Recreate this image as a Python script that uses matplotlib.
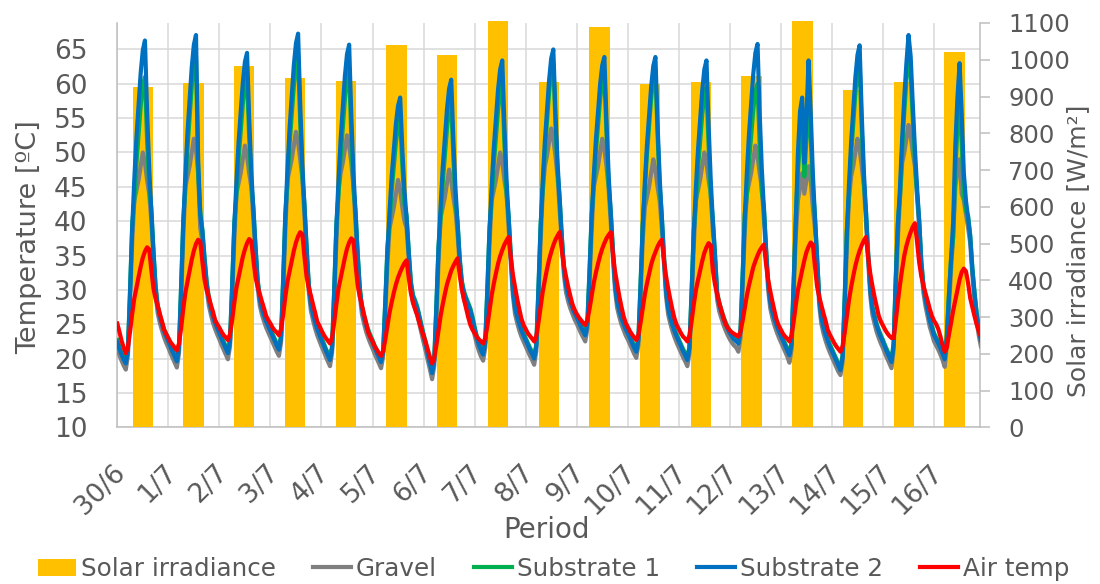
import matplotlib
matplotlib.use("Agg")
import matplotlib.pyplot as plt
from matplotlib.transforms import ScaledTranslation
import numpy as np

# ---------------- data ----------------
dates = ['30/6', '1/7', '2/7', '3/7', '4/7', '5/7', '6/7', '7/7', '8/7', '9/7',
         '10/7', '11/7', '12/7', '13/7', '14/7', '15/7', '16/7']

# daily solar irradiance [W/m2]
solar_irradiance = [925, 936, 984, 951, 942, 1041, 1012, 1106, 939, 1090,
                    935, 939, 955, 1106, 919, 939, 1021]

# hourly temperatures [degC], one list per day (00:00 ... 23:00)
gravel_days = [
    [21.5,20.5,19.7,19.0,18.4,20.5,28.1,37.0,43.0,44.5,46.0,48.0,50.0,48.5,46.0,44.0,40.0,34.6,29.4,26.6,25.2,24.1,23.1,22.3],
    [21.6,20.8,20.1,19.4,18.7,20.8,28.6,37.6,45.0,46.5,48.0,50.0,52.0,50.5,47.0,39.0,37.0,33.6,30.1,27.8,26.4,25.2,24.3,23.5],
    [22.8,22.0,21.3,20.6,19.9,21.8,28.9,37.2,44.0,45.5,47.0,49.0,51.0,49.5,47.0,45.0,40.1,35.1,30.3,27.7,26.4,25.4,24.5,23.8],
    [23.1,22.4,21.7,21.0,20.4,22.4,29.9,38.6,46.0,47.5,49.0,51.0,53.0,51.5,49.0,46.3,40.6,35.1,29.8,27.0,25.6,24.4,23.4,22.6],
    [21.8,21.1,20.3,19.6,18.9,20.9,28.4,37.1,44.5,47.0,48.5,50.5,52.5,51.0,48.5,45.2,39.7,34.3,29.2,26.5,25.1,23.9,23.0,22.2],
    [21.5,20.7,20.0,19.3,18.6,20.3,26.5,33.7,39.0,40.5,42.0,44.0,46.0,44.5,42.0,40.0,39.0,34.6,30.1,28.1,27.3,26.4,25.1,23.7],
    [22.4,21.1,19.7,18.4,17.0,18.9,25.8,33.8,40.5,42.0,43.5,45.5,47.5,46.0,43.5,41.5,38.0,33.4,30.1,28.6,27.7,26.9,26.1,24.9],
    [23.4,22.1,21.1,20.3,19.7,21.6,28.5,36.6,43.0,44.5,46.0,48.0,50.0,48.5,46.0,44.0,38.9,33.9,29.1,26.5,25.2,24.1,23.2,22.5],
    [21.8,21.1,20.4,19.8,19.1,21.1,28.4,36.9,44.2,48.0,49.5,51.5,53.5,52.0,49.5,46.4,41.5,36.6,32.1,29.6,28.3,27.3,26.5,25.7],
    [25.1,24.4,23.7,23.1,22.5,24.3,30.8,38.4,45.0,46.5,48.0,50.0,52.0,50.5,48.0,44.7,39.7,34.7,30.0,27.4,26.1,25.0,24.2,23.4],
    [22.8,22.1,21.4,20.7,20.1,22.0,28.9,37.0,42.0,43.5,45.0,47.0,49.0,47.5,45.0,43.0,39.0,33.9,29.0,26.4,25.1,24.0,23.1,22.3],
    [21.6,20.9,20.2,19.6,18.9,20.8,27.9,36.1,43.0,44.5,46.0,48.0,50.0,48.5,46.0,44.0,38.5,34.1,28.6,26.9,25.9,24.9,24.1,23.4],
    [22.8,22.3,21.9,21.6,21.0,23.0,30.3,38.5,44.0,45.5,47.0,49.0,51.0,49.5,47.0,45.0,40.3,35.0,30.0,27.3,25.9,24.8,23.9,23.1],
    [22.4,21.7,21.0,20.3,19.4,21.3,29.5,38.0,43.0,45.0,47.0,44.0,46.0,48.0,46.0,42.0,39.0,33.6,27.8,25.1,23.7,22.6,21.7,20.9],
    [20.2,19.5,18.8,18.1,17.6,19.5,27.2,36.2,43.3,46.5,48.0,50.0,52.0,50.5,48.0,45.2,39.7,34.3,29.2,26.4,25.1,23.9,23.0,22.2],
    [21.5,20.7,20.0,19.3,18.6,21.3,30.0,37.5,43.5,48.5,50.0,52.0,54.0,52.5,50.0,48.0,43.5,39.1,33.1,29.6,27.6,26.1,24.6,23.6],
    [22.5,21.9,21.3,20.6,19.8,18.8,21.8,27.5,33.0,38.0,45.0,47.5,49.0,44.0,43.0,41.0,39.0,36.8,32.1,28.6,25.6,23.4,21.8],
]

substrate1_days = [
    [22.7,21.7,20.9,20.2,19.6,21.5,30.1,39.5,43.1,48.5,52.6,56.8,59.7,61.0,51.9,45.0,41.8,35.8,30.6,27.8,26.4,25.3,24.3,23.5],
    [22.8,22.0,21.3,20.6,19.9,21.8,30.6,40.1,44.9,50.7,55.1,59.6,62.7,64.0,47.1,41.3,38.8,34.8,31.3,29.0,27.6,26.4,25.5,24.7],
    [24.0,23.2,22.5,21.8,21.1,22.8,30.9,39.7,43.7,49.0,53.0,57.0,59.8,61.0,52.3,45.5,41.9,36.3,31.5,28.9,27.6,26.6,25.7,25.0],
    [24.3,23.6,22.9,22.2,21.6,23.4,31.9,41.1,45.6,51.2,55.5,59.7,62.7,64.0,54.3,46.5,42.4,36.3,31.0,28.2,26.8,25.6,24.6,23.8],
    [23.0,22.3,21.5,20.8,20.1,21.9,30.4,39.6,43.9,49.3,53.5,57.8,60.7,62.0,52.6,45.0,41.5,35.5,30.4,27.7,26.3,25.1,24.2,23.4],
    [22.7,21.9,21.2,20.5,19.8,21.3,28.5,36.2,39.7,44.4,47.9,51.5,53.9,55.0,48.1,42.5,40.8,35.8,31.3,29.3,28.5,27.6,26.3,24.9],
    [23.6,22.3,20.9,19.6,18.2,19.9,27.8,36.3,40.4,45.6,49.6,53.5,56.3,57.5,49.3,42.8,39.8,34.6,31.3,29.8,28.9,28.1,27.3,26.1],
    [24.6,23.3,22.3,21.5,20.9,22.6,30.5,39.1,43.1,48.2,52.1,56.1,58.8,60.0,51.3,44.0,40.7,35.1,30.3,27.7,26.4,25.3,24.4,23.7],
    [23.0,22.3,21.6,21.0,20.3,22.1,30.4,39.4,44.6,50.1,54.4,58.7,61.8,63.0,54.2,47.2,43.3,37.8,33.3,30.8,29.5,28.5,27.7,26.9],
    [26.3,25.6,24.9,24.3,23.7,25.3,32.8,40.9,45.1,50.1,53.9,57.7,60.4,61.5,52.7,45.3,41.5,35.9,31.2,28.6,27.3,26.2,25.4,24.6],
    [24.0,23.3,22.6,21.9,21.3,23.0,30.9,39.5,44.4,49.7,53.8,57.9,60.8,62.0,52.7,45.2,40.8,35.1,30.2,27.6,26.3,25.2,24.3,23.5],
    [22.8,22.1,21.4,20.8,20.1,21.8,29.9,38.6,42.5,47.6,51.6,55.5,58.3,59.5,51.0,43.7,40.3,35.3,29.8,28.1,27.1,26.1,25.3,24.6],
    [24.0,23.5,23.1,22.8,22.5,24.2,32.3,41.0,43.8,48.6,52.5,56.2,58.9,60.0,51.3,44.3,42.1,36.2,31.2,28.5,27.1,26.0,25.1,24.3],
    [23.6,22.9,22.2,21.5,20.8,22.3,31.5,40.5,47.0,52.0,55.0,46.5,52.0,58.0,52.5,45.0,40.8,34.8,29.0,26.3,24.9,23.8,22.9,22.1],
    [21.4,20.7,20.0,19.3,18.6,20.5,29.2,38.7,43.8,49.6,54.0,58.6,61.7,63.0,53.5,45.6,41.5,35.5,30.4,27.6,26.3,25.1,24.2,23.4],
    [22.7,21.9,21.2,20.5,19.8,22.3,32.0,40.0,43.6,50.2,55.9,60.6,64.5,61.6,54.9,48.8,44.0,40.3,34.3,30.8,28.8,27.3,25.8,24.8],
    [23.7,23.1,22.5,21.8,21.0,20.2,23.5,29.5,34.5,37.7,47.4,53.6,58.0,51.4,43.9,41.5,40.8,38.0,33.3,29.8,26.8,24.6,23.0],
]

substrate2_days = [
    [22.4,21.4,20.6,19.9,19.3,21.2,29.6,39.0,46.1,52.2,56.9,61.6,64.9,66.3,56.0,47.6,41.5,35.5,30.3,27.5,26.1,25.0,24.0,23.2],
    [22.5,21.7,21.0,20.3,19.6,21.5,30.1,39.6,46.7,52.9,57.6,62.4,65.7,67.1,49.0,41.0,38.5,34.5,31.0,28.7,27.3,26.1,25.2,24.4],
    [23.7,22.9,22.2,21.5,20.8,22.5,30.4,39.2,45.7,51.4,55.8,60.1,63.2,64.5,55.0,47.2,41.6,36.0,31.2,28.6,27.3,26.3,25.4,24.7],
    [24.0,23.3,22.6,21.9,21.3,23.1,31.4,40.6,47.5,53.5,58.1,62.7,65.9,67.3,56.9,48.3,42.1,36.0,30.7,27.9,26.5,25.3,24.3,23.5],
    [22.7,22.0,21.2,20.5,19.8,21.6,29.9,39.1,46.0,51.9,56.5,61.1,64.3,65.7,55.5,47.2,41.2,35.2,30.1,27.4,26.0,24.8,23.9,23.1],
    [22.4,21.6,20.9,20.2,19.5,21.0,28.0,35.7,41.4,46.5,50.3,54.2,56.8,58.0,50.5,44.5,40.5,35.5,31.0,29.0,28.2,27.3,26.0,24.6],
    [23.3,22.0,20.6,19.3,17.9,19.6,27.3,35.8,42.2,47.8,52.1,56.3,59.3,60.6,51.8,44.7,39.5,34.3,31.0,29.5,28.6,27.8,27.0,25.8],
    [24.3,23.0,22.0,21.2,20.6,22.3,30.0,38.6,45.0,50.6,54.8,59.1,62.1,63.4,53.9,46.0,40.4,34.8,30.0,27.4,26.1,25.0,24.1,23.4],
    [22.7,22.0,21.3,20.7,20.0,21.8,29.9,38.9,45.7,51.5,56.0,60.5,63.7,65.0,55.8,48.4,43.0,37.5,33.0,30.5,29.2,28.2,27.4,26.6],
    [26.0,25.3,24.6,24.0,23.4,25.0,32.3,40.4,46.5,51.8,55.8,59.9,62.7,63.9,54.5,46.7,41.2,35.6,30.9,28.3,27.0,25.9,25.1,24.3],
    [23.7,23.0,22.3,21.6,21.0,22.7,30.4,39.0,45.5,51.0,55.3,59.6,62.6,63.9,54.2,46.3,40.5,34.8,29.9,27.3,26.0,24.9,24.0,23.2],
    [22.5,21.8,21.1,20.5,19.8,21.5,29.4,38.1,44.7,50.3,54.7,59.0,62.1,63.4,54.0,46.0,40.0,35.0,29.5,27.8,26.8,25.8,25.0,24.3],
    [23.7,23.2,22.8,22.5,22.2,23.9,31.8,40.5,47.1,52.7,57.1,61.4,64.5,65.8,55.8,47.7,41.8,35.9,30.9,28.2,26.8,25.7,24.8,24.0],
    [23.3,22.6,21.9,21.2,20.5,22.0,31.0,40.0,50.0,56.0,58.0,48.5,55.0,63.4,56.0,47.0,40.5,34.5,28.7,26.0,24.6,23.5,22.6,21.8],
    [21.1,20.4,19.7,19.0,18.3,20.2,28.7,38.2,45.3,51.4,56.1,60.9,64.2,65.6,55.5,47.2,41.2,35.2,30.1,27.3,26.0,24.8,23.9,23.1],
    [22.4,21.6,20.9,20.2,19.5,22.0,31.5,39.5,45.0,52.0,58.0,63.0,67.1,64.0,57.0,50.5,45.0,40.0,34.0,30.5,28.5,27.0,25.5,24.5],
    [23.4,22.8,22.2,21.5,20.7,19.9,23.0,29.0,34.5,40.0,51.0,58.0,63.0,55.5,47.0,43.0,40.5,37.7,33.0,29.5,26.5,24.3,22.7],
]

air_days = [
    [25.1,23.9,22.6,21.6,20.8,21.7,23.9,26.5,28.8,30.3,31.9,33.4,34.7,35.6,36.2,35.9,32.9,30.2,28.7,27.7,26.5,25.4,24.2,23.6],
    [23.0,22.4,22.0,21.6,21.2,22.2,24.4,27.2,29.6,31.2,32.8,34.4,35.7,36.7,37.3,37.0,34.1,31.5,30.0,29.0,27.8,26.8,25.6,25.0],
    [24.5,23.9,23.4,23.1,22.7,23.6,25.6,28.1,30.3,31.8,33.3,34.8,35.9,36.8,37.4,37.1,34.3,31.8,30.4,29.4,28.3,27.3,26.2,25.6],
    [25.1,24.5,24.1,23.8,23.4,24.3,26.4,29.0,31.2,32.7,34.2,35.7,36.9,37.8,38.4,38.1,34.8,31.9,30.3,29.2,27.9,26.7,25.4,24.8],
    [24.1,23.5,23.0,22.6,22.2,23.1,25.3,27.9,30.2,31.7,33.2,34.7,36.0,36.9,37.5,37.2,33.7,30.7,29.0,27.8,26.4,25.2,23.8,23.1],
    [22.5,21.8,21.3,20.8,20.4,21.1,22.8,24.7,26.7,28.2,29.6,30.8,31.8,32.6,33.3,33.9,34.3,31.8,29.6,28.2,27.2,26.3,25.2,24.2],
    [23.3,22.4,21.3,20.2,19.3,20.1,21.9,24.0,26.2,27.9,29.4,30.8,31.8,32.8,33.5,34.1,34.6,32.1,30.1,28.6,27.3,26.0,24.9,24.2],
    [23.7,23.2,22.8,22.5,22.2,23.0,24.8,27.0,29.2,30.9,32.4,33.8,34.9,35.8,36.6,37.2,37.7,34.7,32.2,30.4,28.7,27.2,25.8,24.9],
    [24.3,23.7,23.3,22.9,22.5,23.3,25.2,27.4,29.7,31.4,33.0,34.4,35.5,36.5,37.3,37.9,38.4,35.7,33.5,31.9,30.4,29.1,27.9,27.1],
    [26.5,26.0,25.6,25.2,24.9,25.6,27.2,29.1,31.0,32.5,33.8,35.0,36.0,36.8,37.5,38.0,38.4,35.3,32.7,30.9,29.1,27.6,26.2,25.2],
    [24.6,24.0,23.5,23.1,22.7,23.4,25.2,27.2,29.3,30.9,32.3,33.7,34.7,35.5,36.3,36.9,37.3,34.3,32.0,30.2,28.6,27.1,25.8,24.9],
    [24.3,23.7,23.2,22.9,22.5,23.4,25.4,27.8,29.9,31.4,32.8,34.2,35.4,36.2,36.8,36.5,32.8,30.8,29.3,28.2,27.0,26.0,25.0,24.5],
    [24.1,23.8,23.6,23.4,23.2,23.9,25.5,27.4,29.2,30.7,32.0,33.3,34.2,35.0,35.7,36.2,36.6,33.8,31.5,29.8,28.3,26.9,25.6,24.8],
    [24.2,23.6,23.2,22.9,22.5,23.4,25.4,27.8,30.0,31.4,32.9,34.3,35.5,36.3,36.9,36.6,33.4,30.5,29.0,27.8,26.6,25.5,24.2,23.5],
    [22.9,22.3,21.8,21.4,21.0,21.8,23.8,26.2,28.5,30.4,32.0,33.5,34.7,35.7,36.5,37.2,37.7,34.8,32.4,30.6,29.0,27.6,26.2,25.4],
    [24.8,24.2,23.7,23.3,23.0,23.0,25.5,28.3,30.8,33.0,35.0,36.4,37.5,38.4,39.2,39.7,37.0,34.0,32.0,30.6,29.5,28.4,27.2,26.2],
    [25.5,25.0,24.3,23.2,22.0,21.0,21.6,23.5,25.2,27.0,28.5,30.0,31.5,32.6,33.1,32.7,31.0,28.8,27.5,26.2,25.0,24.0,23.2],
]

series_names = ['Gravel', 'Substrate 1', 'Substrate 2', 'Air temp']
series_colors = ['#7F7F7F', '#00B050', '#0070C0', '#FF0000']


def flatten(days):
    return [v for day in days for v in day]


series = [flatten(gravel_days), flatten(substrate1_days),
          flatten(substrate2_days), flatten(air_days)]

# ---------------- figure ----------------
W, H = 1100, 584
fig = plt.figure(figsize=(W / 100, H / 100), dpi=100)
L, R, T, B = 117.3, 980.0, 23.0, 427.3
rect = [L / W, 1 - B / H, (R - L) / W, (B - T) / H]

TXT = '#595959'
AXC = '#BFBFBF'
GRID = '#D9D9D9'

# base axes: temperature scale, grid, date labels
ax = fig.add_axes(rect)
ax.set_xlim(0, 16.9)
ax.set_ylim(10, 68.85)
ax.set_yticks(np.arange(10, 66, 5))
ax.set_xticks(range(len(dates)))
ax.set_xticklabels(dates, rotation=45, ha='right', va='top', rotation_mode='anchor')
ax.grid(True, color=GRID, lw=1.1)
ax.set_axisbelow(True)
ax.tick_params(axis='both', length=0, colors=TXT)
ax.tick_params(axis='y', labelsize=19, pad=21.5)
ax.tick_params(axis='x', labelsize=19, pad=23)
shift = ScaledTranslation(-5 / 100, 0, fig.dpi_scale_trans)
for lab in ax.get_xticklabels():
    lab.set_transform(lab.get_transform() + shift)
for s in ['top', 'right']:
    ax.spines[s].set_visible(False)
for s in ['left', 'bottom']:
    ax.spines[s].set_color(AXC)
    ax.spines[s].set_linewidth(1.1)
ax.set_ylabel('Temperature [ºC]', fontsize=19.5, color=TXT)
ax.yaxis.set_label_coords((42 - L) / (R - L), (B - 237.5) / (B - T))
ax.set_xlabel('Period', fontsize=20, color=TXT)
ax.xaxis.set_label_coords((547 - L) / (R - L), -(516 - B) / (B - T))

# bars on secondary (right) axis, categorical x
ax2 = fig.add_axes(rect)
ax2.patch.set_visible(False)
bars = ax2.bar(range(len(solar_irradiance)), solar_irradiance, width=0.4,
               color='#FFC000', clip_on=False, label='Solar irradiance')
ax2.set_xlim(-0.5, len(solar_irradiance) - 0.5)
ax2.set_ylim(0, 1100)
ax2.set_xticks([])
ax2.yaxis.tick_right()
ax2.yaxis.set_label_position('right')
ax2.set_yticks(range(0, 1101, 100))
ax2.tick_params(axis='y', direction='out', length=7.2, width=1.1, color=AXC,
                labelcolor=TXT, labelsize=17.5, pad=13)
for s in ['top', 'left', 'bottom']:
    ax2.spines[s].set_visible(False)
ax2.spines['right'].set_color(AXC)
ax2.spines['right'].set_linewidth(1.1)
ax2.set_ylabel('Solar irradiance [W/m²]', fontsize=18, color=TXT)
ax2.yaxis.set_label_coords((1066 - L) / (R - L), (B - 251) / (B - T))

# lines on top, same temperature scale as base axes
ax3 = fig.add_axes(rect, sharex=ax, sharey=ax)
ax3.axis('off')
lines = []
for name, color, vals in zip(series_names, series_colors, series):
    t = np.arange(len(vals)) / 24.0
    ln, = ax3.plot(t, vals, color=color, lw=3.0, label=name,
                   solid_joinstyle='round')
    lines.append(ln)

handles = [bars] + lines
labels = ['Solar irradiance'] + series_names
fig.legend(handles, labels, loc='center', bbox_to_anchor=(553.5 / W, 1 - 569 / H),
           ncol=5, frameon=False, fontsize=17.7, handlelength=1.55,
           handletextpad=0.2, columnspacing=1.5, labelcolor=TXT)

fig.savefig('out.png', dpi=100)
